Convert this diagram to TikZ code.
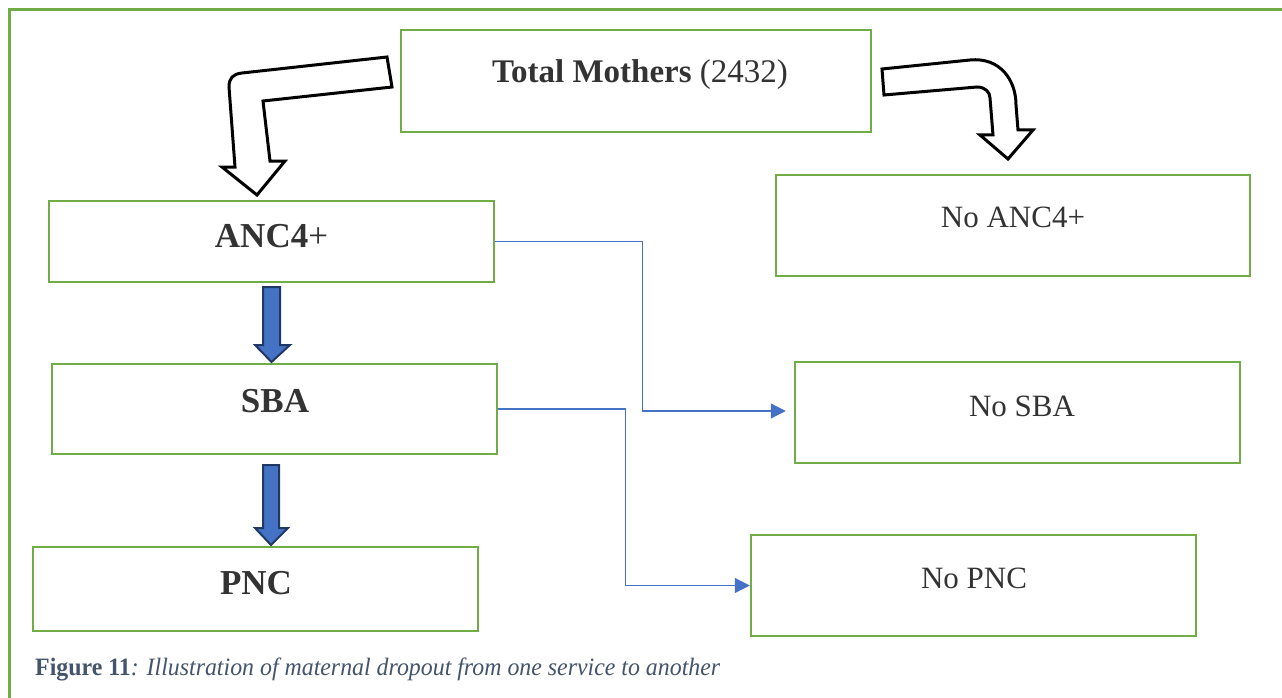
\documentclass[tikz,border=0pt]{standalone}
\usepackage{fontspec}
\setmainfont{Liberation Serif}
\usetikzlibrary{arrows.meta,calc}
\definecolor{boxgreen}{HTML}{70AD47}
\definecolor{connblue}{HTML}{4472C4}
\definecolor{darkblue}{HTML}{203864}
\definecolor{txt}{HTML}{333333}
\definecolor{capcol}{HTML}{44546A}
\tikzset{
  box/.style={draw=boxgreen, line width=2.5pt, rectangle, inner sep=0pt},
  lbl/.style={anchor=base, inner sep=0pt, text=txt},
  conn/.style={draw=connblue, line width=1.2pt, -{Triangle[length=15pt,width=15pt]}},
  hollow/.style={draw=black, fill=white, line width=3pt, line join=miter},
  blockarrow/.style={draw=darkblue, fill=connblue, line width=2pt, line join=miter},
}
\begin{document}
\begin{tikzpicture}[x=1pt,y=-1pt]
\useasboundingbox (0,0) rectangle (1282,698);
% outer frame
\draw[boxgreen, line width=3pt] (9,698) -- (9,10) -- (1282,10);
% boxes
\node[box, minimum width=470pt, minimum height=102pt] (tm) at (636,81) {};
\node[box, minimum width=445pt, minimum height=81pt] (anc) at (271.5,241.5) {};
\node[box, minimum width=445pt, minimum height=90pt] (sba) at (274.5,409) {};
\node[box, minimum width=445pt, minimum height=84pt] (pnc) at (255.5,589) {};
\node[box, minimum width=474pt, minimum height=101pt] (nanc) at (1013,225.5) {};
\node[box, minimum width=445pt, minimum height=101pt] (nsba) at (1017.5,412.5) {};
\node[box, minimum width=445pt, minimum height=101pt] (npnc) at (973.5,585.5) {};
% labels
\node[lbl, font=\fontsize{33}{39}\selectfont] (tmt) at (640,83) {\textbf{Total Mothers} (2432)};
\node[lbl, font=\fontsize{35}{42}\selectfont] (anct) at (271.5,247) {\textbf{ANC4}+};
\node[lbl, font=\fontsize{35}{42}\selectfont] (sbat) at (275,412) {\textbf{SBA}};
\node[lbl, font=\fontsize{35}{42}\selectfont] (pnct) at (256,594) {\textbf{PNC}};
\node[lbl, font=\fontsize{31}{37}\selectfont] (nanct) at (1013,227) {No ANC4+};
\node[lbl, font=\fontsize{31}{37}\selectfont] (nsbat) at (1022,416) {No SBA};
\node[lbl, font=\fontsize{31}{37}\selectfont] (npnct) at (974,588) {No PNC};
% connectors
\draw[conn] (anc.east) -- ++(147,0) |- ([xshift=-8pt,yshift=1.5pt]nsba.west);
\draw[conn] (sba.east) -- ++(127,0) |- (npnc.west);
% blue block arrows
\draw[blockarrow] (263,287) -- (280,287) -- (280,345) -- (290,345) -- (271.5,362) -- (255,345) -- (263,345) -- cycle;
\draw[blockarrow] (263,465) -- (279,465) -- (279,528) -- (288,528) -- (271,545) -- (255,528) -- (263,528) -- cycle;
% hollow bent arrows
\draw[hollow] (387,57) -- (242,73) .. controls (233,74) and (229,78) .. (229,87) -- (235,167) -- (222,167) -- (257,195) -- (285,161) -- (270,161) -- (263,101) -- (392,87) -- cycle;
\draw[hollow] (882,69) -- (970,60) .. controls (1000,57) and (1016,80) .. (1016,105) -- (1018,130) -- (1033,130) -- (1008,159) -- (980,135) -- (993,135) -- (990,98) .. controls (990,92) and (985,87) .. (977,87) -- (884,95) -- cycle;
% caption
\node[anchor=base west, inner sep=0pt, text=capcol] (cap) at (35,675) {\resizebox{685pt}{\height}{\fontsize{25}{30}\selectfont\textbf{Figure 11}\textit{: Illustration of maternal dropout from one service to another}}};
\end{tikzpicture}
\end{document}
